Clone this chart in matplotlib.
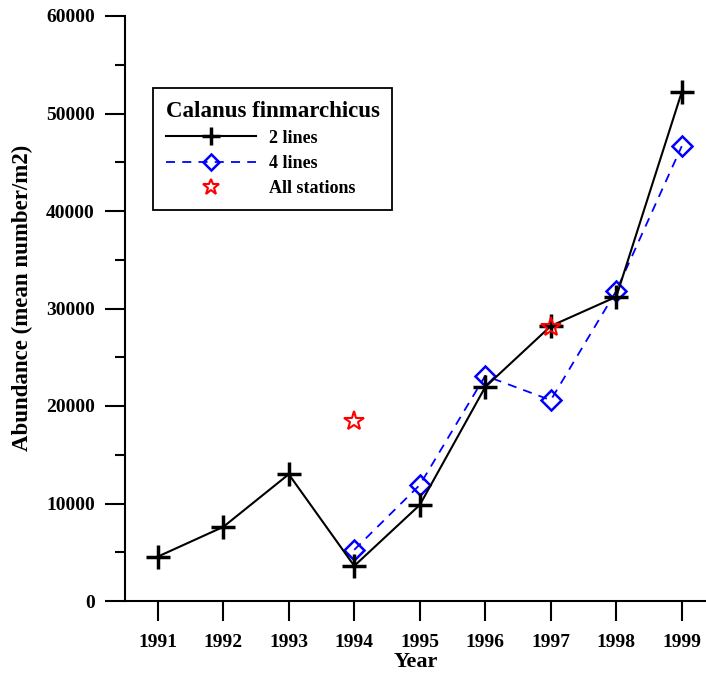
import matplotlib
matplotlib.use("Agg")
import matplotlib.pyplot as plt
from matplotlib.ticker import MultipleLocator

# Calanus finmarchicus abundance, mean number per m2
years_2l = [1991, 1992, 1993, 1994, 1995, 1996, 1997, 1998, 1999]
abund_2l = [4550, 7600, 13000, 3600, 9850, 21950, 28200, 31200, 52200]

years_4l = [1994, 1995, 1996, 1997, 1998, 1999]
abund_4l = [5250, 11900, 23100, 20600, 31800, 46650]

years_all = [1994, 1997]
abund_all = [18450, 28150]

plt.rcParams["font.family"] = ["Liberation Serif", "DejaVu Serif"]
plt.rcParams["font.weight"] = "bold"

PX = 72 / 100  # points per pixel at dpi 100

fig = plt.figure(figsize=(7.06, 6.76), dpi=100)
ax = fig.add_axes([125 / 706, 75 / 676, 581 / 706, 585 / 676])

ax.plot(years_4l, abund_4l, color="#0000ff", ls=(0, (5, 4)), lw=1.3,
        marker="D", ms=10, mfc="none", mec="#0000ff", mew=1.8,
        label="4 lines", zorder=2)
ax.plot(years_2l, abund_2l, color="black", lw=1.5, marker="+", ms=17,
        mew=2.5, label="2 lines", zorder=3)
ax.plot(years_all, abund_all, ls="none", marker="*", ms=15, mfc="none",
        mec="red", mew=1.5, label="All stations", zorder=4)

ax.set_xlim(1990.5, 1999.37)
ax.set_ylim(0, 60000)
ax.set_xticks(years_2l)
ax.yaxis.set_major_locator(MultipleLocator(10000))
ax.yaxis.set_minor_locator(MultipleLocator(5000))

for side in ("top", "right"):
    ax.spines[side].set_visible(False)
for side in ("left", "bottom"):
    ax.spines[side].set_linewidth(1.5)

ax.tick_params(axis="both", which="major", direction="out", length=20 * PX,
               width=1.5, labelsize=14)
ax.tick_params(axis="y", which="major", pad=10 * PX)
ax.tick_params(axis="x", which="major", pad=13 * PX)
ax.tick_params(axis="y", which="minor", direction="out", length=10 * PX,
               width=1.5)
ax.tick_params(axis="x", which="minor", bottom=False)
for lab in ax.get_xticklabels() + ax.get_yticklabels():
    lab.set_fontweight("bold")

ax.set_xlabel("Year", fontsize=16, fontweight="bold", labelpad=1)
ax.set_ylabel("Abundance (mean number/m2)", fontsize=16.5, fontweight="bold")
ax.yaxis.set_label_coords(-0.159, 0.518)

handles, labels = ax.get_legend_handles_labels()
order = [1, 0, 2]
leg = ax.legend([handles[i] for i in order], [labels[i] for i in order],
                title="Calanus finmarchicus", loc="upper left",
                bbox_to_anchor=(28 / 581, 513 / 585), borderaxespad=0,
                fancybox=False, framealpha=1, edgecolor="black",
                prop={"size": 13, "weight": "bold"},
                title_fontproperties={"size": 16.5, "weight": "bold"},
                alignment="left", handlelength=5, handletextpad=0.7,
                borderpad=0.7, labelspacing=0.45, markerscale=0.8)
leg.get_frame().set_linewidth(1.3)

fig.savefig("out.png", dpi=100)
